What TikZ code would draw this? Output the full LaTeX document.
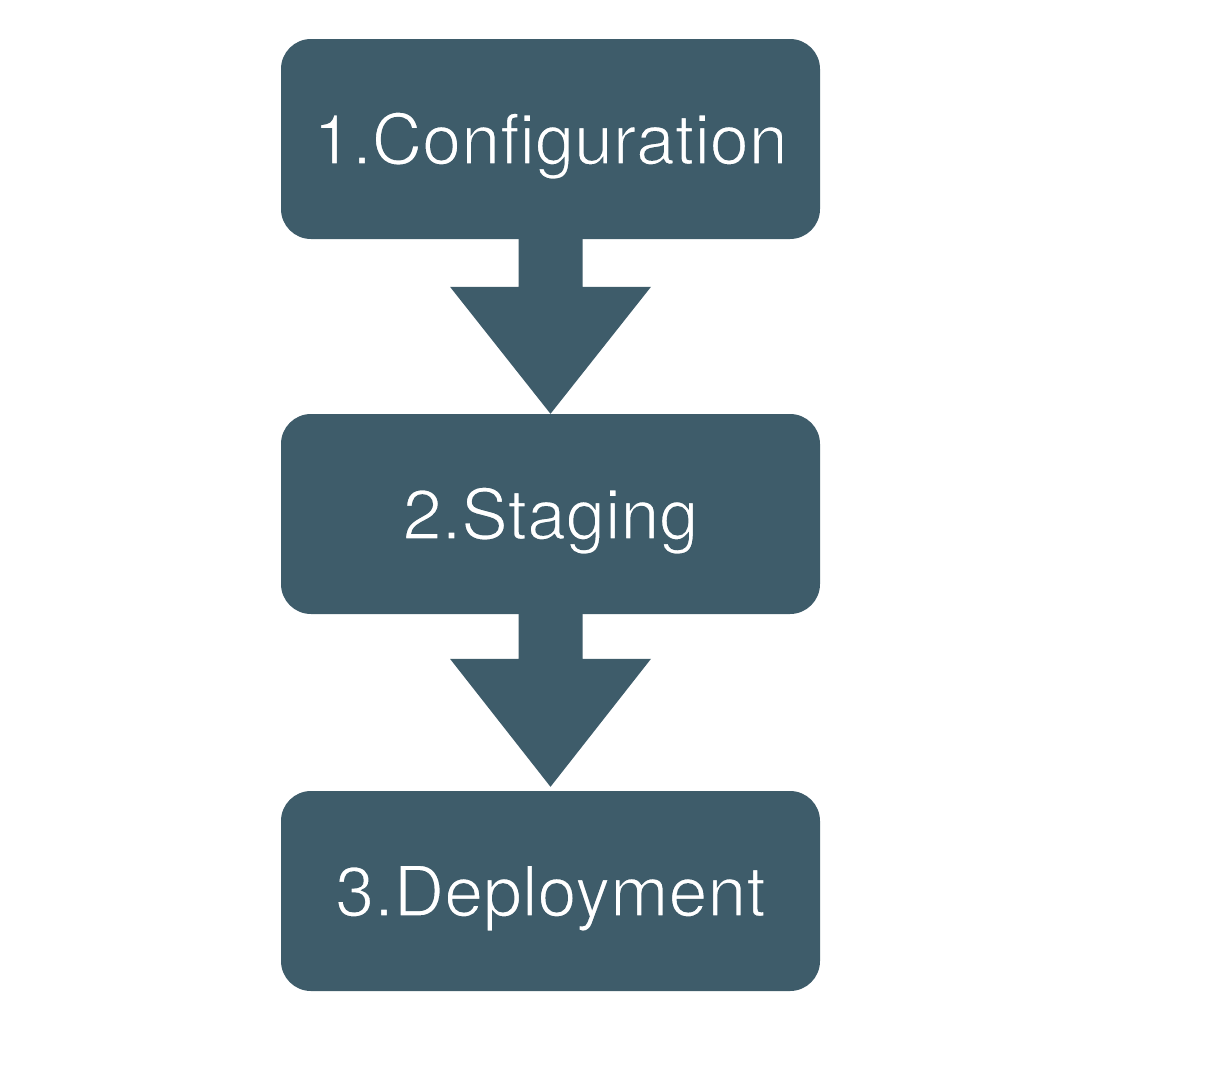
\documentclass[tikz,border=0pt]{standalone}
\usepackage{fontspec}
\setmainfont{TeX Gyre Heros}
\usetikzlibrary{calc}
\definecolor{boxcol}{RGB}{62,92,106}
\newcommand{\thintext}[1]{\special{pdf:literal direct 2 Tr 1.5 w 0.243 0.361 0.416 RG}#1\special{pdf:literal direct 0 Tr 1 w}}
\tikzset{
  stepbox/.style={draw=none, fill=boxcol, rounded corners=30pt, minimum width=539pt, minimum height=200pt,
    inner sep=0pt, text=white, font=\fontsize{70}{84}\selectfont, text height=50.3pt, text depth=0pt},
  blockarrow/.style={fill=boxcol, draw=none}
}
\begin{document}
\begin{tikzpicture}[x=1pt,y=-1pt]
\useasboundingbox (0,0) rectangle (1208,1066);
\node[stepbox] (b1) at (550.5,139) {\thintext{1.Configuration}};
\node[stepbox] (b2) at (550.5,514) {\thintext{2.Staging}};
\node[stepbox] (b3) at (550.5,891) {\thintext{3.Deployment}};
\fill[blockarrow] ($(b1.south)+(-32,-1)$) -- ($(b1.south)+(32,-1)$) -- ($(b2.north)+(32,-127)$) -- ($(b2.north)+(100.5,-127)$) -- (b2.north) -- ($(b2.north)+(-100.5,-127)$) -- ($(b2.north)+(-32,-127)$) -- cycle;
\fill[blockarrow] ($(b2.south)+(-32,-1)$) -- ($(b2.south)+(32,-1)$) -- ($(b3.north)+(32,-132)$) -- ($(b3.north)+(100.5,-132)$) -- ($(b3.north)+(0,-4)$) -- ($(b3.north)+(-100.5,-132)$) -- ($(b3.north)+(-32,-132)$) -- cycle;
\end{tikzpicture}
\end{document}
